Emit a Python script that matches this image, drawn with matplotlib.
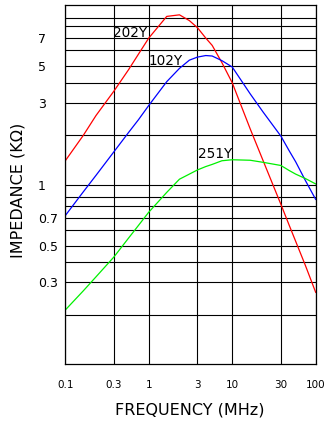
import numpy as np
import matplotlib
matplotlib.use("Agg")
import matplotlib.pyplot as plt
from matplotlib.ticker import FixedLocator, FixedFormatter, NullFormatter

# frequency (MHz) and impedance (kOhm)
freq = [0.1, 0.15, 0.2, 0.3, 0.5, 0.7, 1, 1.5, 2, 2.5, 3, 4, 5, 7, 10, 15, 20, 30, 40, 50, 70, 100]
z_202y = [1.4, 2.0, 2.56, 3.55, 4.79, 5.74, 7.0, 9.1, 9.22, 8.65, 7.87, 7.0, 6.38, 5.21, 4.0,
          2.17, 1.41, 0.817, 0.636, 0.527, 0.383, 0.265]
z_102y = [0.717, 0.942, 1.14, 1.59, 2.08, 2.43, 2.9, 4.06, 4.86, 5.36, 5.55, 5.65, 5.62, 5.33, 4.95,
          3.41, 2.68, 1.98, 1.61, 1.38, 1.06, 0.875]
z_251y = [0.213, 0.270, 0.325, 0.431, 0.548, 0.635, 0.745, 0.938, 1.08, 1.16, 1.23, 1.29, 1.33, 1.40,
          1.42, 1.41, 1.37, 1.31, 1.22, 1.16, 1.09, 1.01]

x_ticks = [0.1, 0.3, 1, 3, 10, 30, 100]
x_labels = ["0.1", "0.3", "1", "3", "10", "30", "100"]
y_ticks = [0.3, 0.5, 0.7, 1, 3, 5, 7]
y_labels = ["0.3", "0.5", "0.7", "1", "3", "5", "7"]
y_minor = [0.2, 0.4, 0.6, 0.8, 0.9, 2, 4, 6, 8, 9]

# the printed log paper is not a true log scale: sub-decade lines sit a bit off
X_MANT = [1, 3, 10]
X_FRAC = [0, 0.583, 1]
Y_MANT = [1, 2, 3, 4, 5, 6, 7, 8, 9, 10]
Y_FRAC = [0, 0.274, 0.456, 0.567, 0.659, 0.748, 0.816, 0.882, 0.929, 1]


def paper_scale(mant, frac):
    lm = np.log10(mant)

    def fwd(v):
        v = np.asarray(v, dtype=float)
        with np.errstate(divide="ignore", invalid="ignore"):
            lv = np.log10(np.where(v > 0, v, np.nan))
        d = np.floor(lv)
        return d + np.interp(lv - d, lm, frac)

    def inv(t):
        t = np.asarray(t, dtype=float)
        d = np.floor(t)
        return 10 ** (d + np.interp(t - d, frac, lm))

    return fwd, inv


fig = plt.figure(figsize=(3.29, 4.21), dpi=100)
ax = fig.add_axes([65.3 / 329, 1 - 364.3 / 421, 250.4 / 329, 359.3 / 421])

ax.set_xscale("function", functions=paper_scale(X_MANT, X_FRAC))
ax.set_yscale("function", functions=paper_scale(Y_MANT, Y_FRAC))

ax.plot(freq, z_202y, color="#ff0000", lw=0.9)
ax.plot(freq, z_102y, color="#0000ff", lw=0.9)
ax.plot(freq, z_251y, color="#00f000", lw=0.9)

ax.set_xlim(0.1, 100)
ax.set_ylim(0.1, 10)

ax.xaxis.set_major_locator(FixedLocator(x_ticks))
ax.xaxis.set_major_formatter(FixedFormatter(x_labels))
ax.xaxis.set_minor_locator(FixedLocator([]))
ax.yaxis.set_major_locator(FixedLocator(y_ticks))
ax.yaxis.set_major_formatter(FixedFormatter(y_labels))
ax.yaxis.set_minor_locator(FixedLocator(y_minor))
ax.yaxis.set_minor_formatter(NullFormatter())

ax.set_axisbelow(True)
ax.grid(which="both", color="black", lw=0.8)
for s in ax.spines.values():
    s.set_color("black")
    s.set_linewidth(0.9)

ax.tick_params(axis="x", which="both", length=0, pad=11, labelsize=7.5)
ax.tick_params(axis="y", which="both", length=0, pad=19.7, labelsize=9)
for lab in ax.get_yticklabels():
    lab.set_horizontalalignment("left")

ax.text(0.53, 7.4, "202Y", fontsize=9.8, ha="center", va="center")
ax.text(1.46, 5.33, "102Y", fontsize=9.8, ha="center", va="center")
ax.text(5.5, 1.55, "251Y", fontsize=9.8, ha="center", va="center")

fig.text(190 / 329, 1 - 410 / 421, "FREQUENCY (MHz)", fontsize=11.5, ha="center", va="center")
fig.text(18.3 / 329, 1 - 190.8 / 421, "IMPEDANCE (KΩ)", fontsize=11.5, rotation=90,
         ha="center", va="center")

fig.savefig("out.png", dpi=100)
